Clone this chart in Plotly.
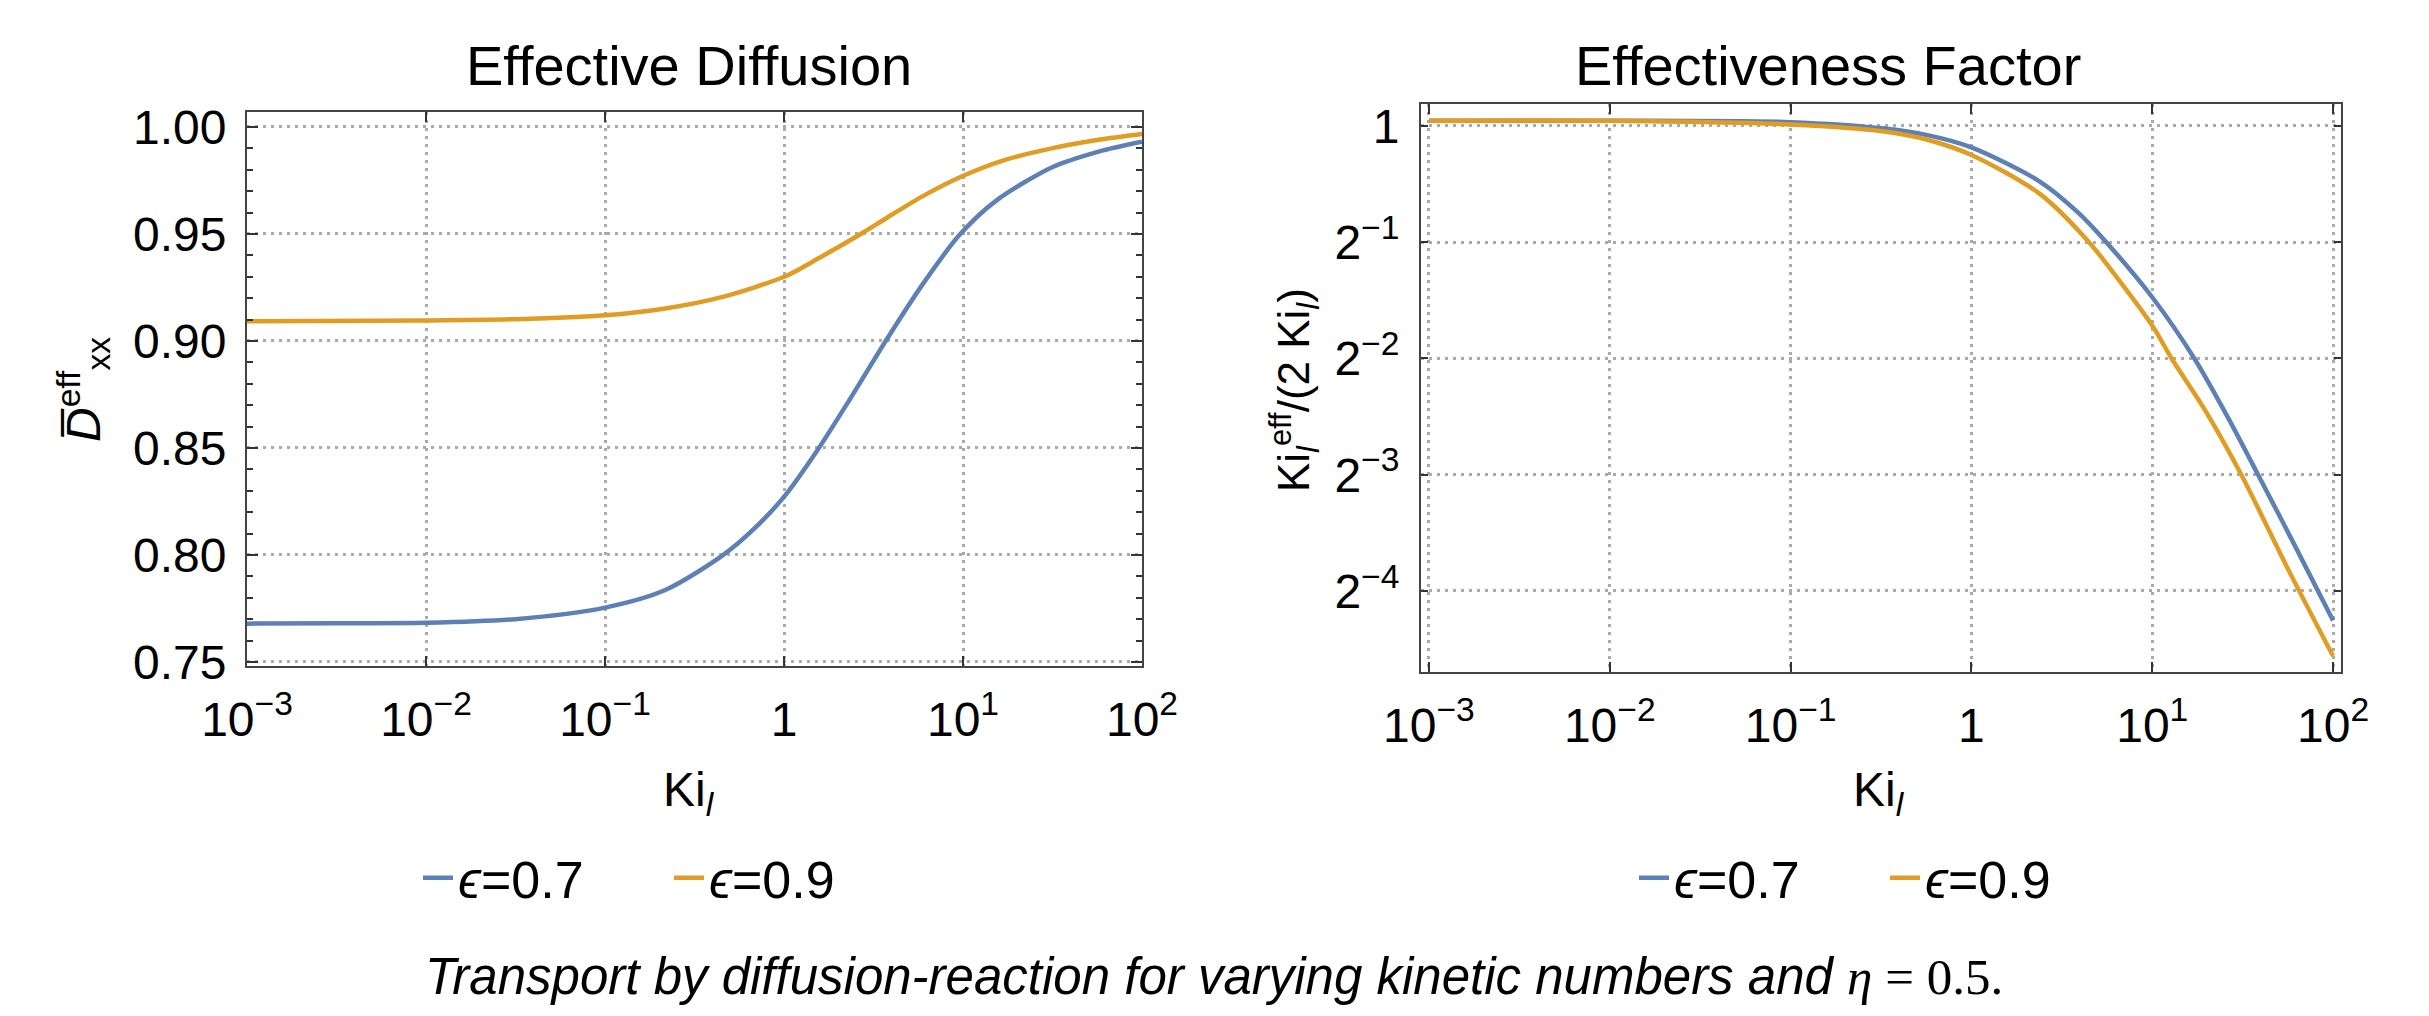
import plotly.graph_objects as go
import math

# ---------------- data ----------------
# Left panel: Effective Diffusion  (Ki_l vs D_xx^eff)
ki_diff_07 = [0.001, 0.00316, 0.01, 0.0316, 0.1, 0.217, 0.454, 0.684, 1.01, 1.55,
              2.34, 3.76, 6.0, 9.57, 15.4, 31.7, 57.3, 100]
d_eff_07 = [0.7679, 0.7681, 0.7683, 0.7700, 0.7754, 0.7836, 0.7998, 0.8124, 0.8276, 0.8494,
            0.8729, 0.9009, 0.9269, 0.9496, 0.9657, 0.9813, 0.9885, 0.9931]
ki_diff_09 = [0.001, 0.01, 0.0316, 0.1, 0.217, 0.454, 1.01, 1.55, 2.71, 3.76,
              6.0, 10.1, 16.7, 31.7, 57.3, 100]
d_eff_09 = [0.9092, 0.9096, 0.9102, 0.9120, 0.9152, 0.9206, 0.9301, 0.9385, 0.9502, 0.9576,
            0.9678, 0.9773, 0.9843, 0.9901, 0.9940, 0.9967]

# Right panel: Effectiveness Factor  (Ki_l vs Ki_l^eff / (2 Ki_l))
ki_fac_07 = [0.001, 0.01, 0.1, 0.322, 0.571, 1.0, 2.40, 3.87, 5.57, 10.1,
             17.1, 26.2, 38.5, 62.0, 100]
fac_07 = [1.032, 1.032, 1.023, 0.986, 0.947, 0.880, 0.717, 0.598, 0.500, 0.358,
          0.250, 0.176, 0.125, 0.0813, 0.0524]
ki_fac_09 = [0.001, 0.01, 0.1, 0.322, 0.571, 1.0, 2.40, 4.47, 6.87, 10.1,
             12.8, 19.7, 31.1, 56.2, 100]
fac_09 = [1.032, 1.032, 1.009, 0.969, 0.921, 0.841, 0.666, 0.500, 0.387, 0.302,
          0.250, 0.183, 0.125, 0.0714, 0.0424]

series_names = ["<i>ϵ</i>=0.7", "<i>ϵ</i>=0.9"]
colors = ["#5E81B5", "#E19C24"]

x_tickvals = [0.001, 0.01, 0.1, 1, 10, 100]
x_ticktext = ["10<sup>−3</sup>", "10<sup>−2</sup>", "10<sup>−1</sup>", "1", "10<sup>1</sup>", "10<sup>2</sup>"]
left_y_tickvals = [0.75, 0.80, 0.85, 0.90, 0.95, 1.00]
left_y_ticktext = ["0.75", "0.80", "0.85", "0.90", "0.95", "1.00"]
right_y_tickvals = [1, 0.5, 0.25, 0.125, 0.0625]
right_y_ticktext = ["1", "2<sup>−1</sup>", "2<sup>−2</sup>", "2<sup>−3</sup>", "2<sup>−4</sup>"]

# ---------------- figure ----------------
FONT = "Liberation Sans, Arial, sans-serif"
OFF = 8                      # default page body margin
W, H = 2429 - OFF, 1016 - OFF
fig = go.Figure()

lw = 4.5
line_shape = dict(shape="spline", smoothing=0.8)
fig.add_trace(go.Scatter(x=ki_diff_07, y=d_eff_07, mode="lines", name=series_names[0],
                         line=dict(color=colors[0], width=lw, **line_shape),
                         xaxis="x", yaxis="y", legend="legend"))
fig.add_trace(go.Scatter(x=ki_diff_09, y=d_eff_09, mode="lines", name=series_names[1],
                         line=dict(color=colors[1], width=lw, **line_shape),
                         xaxis="x", yaxis="y", legend="legend"))
fig.add_trace(go.Scatter(x=ki_fac_07, y=fac_07, mode="lines", name=series_names[0],
                         line=dict(color=colors[0], width=lw, **line_shape),
                         xaxis="x2", yaxis="y2", legend="legend2"))
fig.add_trace(go.Scatter(x=ki_fac_09, y=fac_09, mode="lines", name=series_names[1],
                         line=dict(color=colors[1], width=lw, **line_shape),
                         xaxis="x2", yaxis="y2", legend="legend2"))


def px_x(p):
    return (p - OFF) / W


def px_y(p):
    return 1 - (p - OFF) / H


grid = dict(showgrid=True, gridcolor="#aaaaaa", gridwidth=2.5, griddash="3px,5px")
axis_common = dict(showline=True, linecolor="#444444", linewidth=2, mirror="ticks",
                   ticks="inside", tickcolor="#333333", tickwidth=2, zeroline=False,
                   automargin=False,
                   tickfont=dict(family=FONT, size=48, color="black"), **grid)

legend_common = dict(orientation="h", xanchor="left", yanchor="middle",
                     font=dict(family=FONT, size=52, color="black"), bgcolor="rgba(0,0,0,0)",
                     itemwidth=30, tracegroupgap=0, entrywidth=206, entrywidthmode="pixels",
                     borderwidth=0)

fig.update_layout(
    width=W, height=H,
    margin=dict(l=0, r=0, t=0, b=0, pad=0, autoexpand=False),
    paper_bgcolor="white", plot_bgcolor="white",
    font=dict(family=FONT, color="black"),
    xaxis=dict(type="log", domain=[px_x(247), px_x(1142)], range=[-3, 2],
               tickvals=x_tickvals, ticktext=x_ticktext, ticklen=10,
               ticklabelstandoff=10, anchor="y", **axis_common),
    yaxis=dict(domain=[px_y(666), px_y(112)], range=[0.7481, 1.007],
               tickvals=left_y_tickvals, ticktext=left_y_ticktext, ticklen=11,
               ticklabelstandoff=9, anchor="x",
               minor=dict(dtick=0.01, ticklen=6, ticks="inside", tickcolor="#333333", showgrid=False),
               **axis_common),
    xaxis2=dict(type="log", domain=[px_x(1421), px_x(2341)], range=[-3.044, 2.044],
                tickvals=x_tickvals, ticktext=x_ticktext, ticklen=10,
                ticklabelstandoff=10, anchor="y2", **axis_common),
    yaxis2=dict(type="log", domain=[px_y(672), px_y(104)],
                range=[math.log10(2 ** -4.697), math.log10(2 ** 0.189)],
                tickvals=right_y_tickvals, ticktext=right_y_ticktext, ticklen=7,
                ticklabelstandoff=10, anchor="x2", **axis_common),
    legend=dict(x=px_x(418), y=px_y(878), **legend_common),
    legend2=dict(x=px_x(1634), y=px_y(878), **legend_common),
)

annotations = [
    dict(text="Effective Diffusion", x=px_x(689), y=px_y(65), font=dict(size=56)),
    dict(text="Effectiveness Factor", x=px_x(1828), y=px_y(65), font=dict(size=56)),
    dict(text="Ki<sub><i>l</i></sub>", x=px_x(689), y=px_y(793), font=dict(size=48)),
    dict(text="Ki<sub><i>l</i></sub>", x=px_x(1879), y=px_y(793), font=dict(size=48)),
    dict(text="<i>D̅</i><sup>eff</sup><sub>xx</sub>", x=px_x(83), y=px_y(390), textangle=-90,
         font=dict(size=48)),
    dict(text="Ki<sub><i>l</i></sub><sup>eff</sup>/(2 Ki<sub><i>l</i></sub>)", x=px_x(1294), y=px_y(390),
         textangle=-90, font=dict(size=44)),
    dict(text="<i>Transport by diffusion-reaction for varying kinetic numbers and </i>"
              "<span style='font-family:Liberation Serif'><i>η</i> = 0.5.</span>",
         x=px_x(1214), y=px_y(976), font=dict(size=51)),
]
for a in annotations:
    a.update(xref="paper", yref="paper", showarrow=False, xanchor="center", yanchor="middle")
    a["font"] = dict(family=FONT, color="black", **a["font"])
fig.update_layout(annotations=annotations)

fig.write_html("out.html")
